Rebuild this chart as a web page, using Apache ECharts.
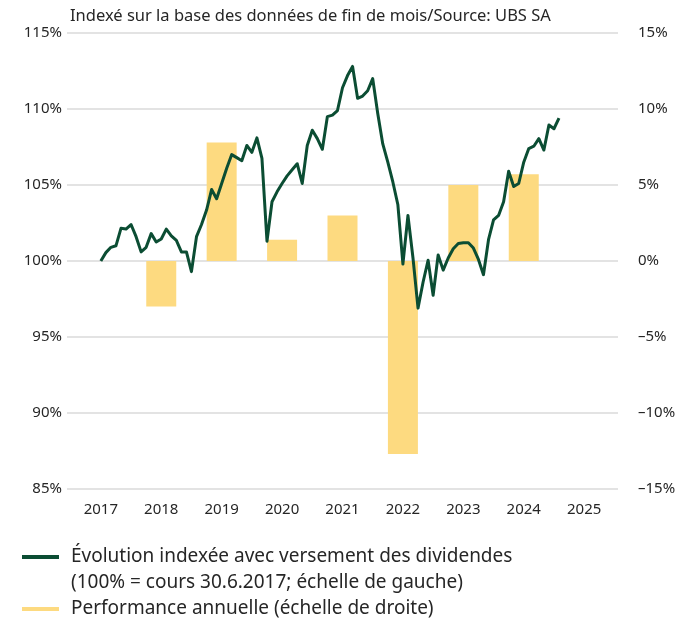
<!DOCTYPE html>
<html>
<head>
<meta charset="utf-8">
<script src="https://cdn.jsdelivr.net/npm/echarts@6/dist/echarts.min.js"></script>
<style>
  html, body { margin: 0; padding: 0; background: #ffffff; }
  #chart { width: 683px; height: 621px; }
</style>
</head>
<body>
<div id="chart"></div>
<script>
// Index, month-end values from 30.6.2017 (left axis, %)
const startYear = 2017;
const indexValues = [
  100.0, 100.55, 100.9, 101.0, 102.15, 102.1, 102.4, 101.6, 100.6, 100.9, 101.8, 101.25,
  101.45, 102.1, 101.65, 101.35, 100.6, 100.6, 99.3, 101.6, 102.4, 103.35, 104.7, 104.1,
  105.1, 106.1, 107.0, 106.8, 106.6, 107.6, 107.15, 108.1, 106.75, 101.3, 103.9, 104.55,
  105.1, 105.6, 106.0, 106.4, 105.1, 107.6, 108.6, 108.05, 107.35, 109.5, 109.6, 109.9,
  111.4, 112.2, 112.8, 110.7, 110.85, 111.2, 112.0, 109.7, 107.7, 106.5, 105.2, 103.7,
  99.8, 103.0, 100.2, 96.9, 98.6, 100.05, 97.75, 100.4, 99.4, 100.2, 100.8, 101.15,
  101.2, 101.2, 100.85, 100.1, 99.1, 101.4, 102.7, 103.0, 103.9, 105.9, 104.9, 105.1,
  106.5, 107.4, 107.55, 108.05, 107.3, 108.95, 108.7, 109.4
];

// Annual performance (right axis, %)
const barYears = [2018, 2019, 2020, 2021, 2022, 2023, 2024];
const annualPerf = [-3.0, 7.8, 1.4, 3.0, -12.7, 5.0, 5.7];

const yearLabels = [2017, 2018, 2019, 2020, 2021, 2022, 2023, 2024, 2025];

const lineText = ['Évolution indexée avec versement des dividendes', '(100% = cours 30.6.2017; échelle de gauche)'];
const lineName = lineText.join(' ');
const barName = 'Performance annuelle (échelle de droite)';

const GREEN = '#0b4d33';
const YELLOW = '#fdda80';
const FONT = '"Noto Sans", sans-serif';
const TEXT = '#262626';
const LEGEND_FS = 19;

const pct = (v) => String(v).replace('-', '–') + '%';

const legendBase = {
  orient: 'vertical',
  left: 22,
  padding: 0,
  itemWidth: 37,
  itemHeight: 4,
  icon: 'rect',
  textStyle: {
    fontFamily: FONT,
    fontSize: LEGEND_FS,
    color: TEXT,
    lineHeight: 26,
    rich: { g: { width: 7, fontSize: LEGEND_FS, lineHeight: 26 } },
  },
};

const chart = echarts.init(document.getElementById('chart'), null, { renderer: 'canvas' });

const option = {
  backgroundColor: '#ffffff',
  animation: false,
  textStyle: { fontFamily: FONT, color: TEXT },
  title: {
    text: 'Indexé sur la base des données de fin de mois/Source: UBS SA',
    left: 70,
    top: 8,
    padding: 0,
    textStyle: { fontFamily: FONT, fontSize: 16.5, fontWeight: 'normal', color: TEXT },
  },
  grid: { left: 67, right: 65, top: 33, bottom: 132 },
  legend: [
    Object.assign({}, legendBase, {
      top: 518,
      data: [lineName],
      formatter: () => '\n{g| }' + lineText[0] + '\n{g| }' + lineText[1],
    }),
    Object.assign({}, legendBase, {
      top: 596,
      data: [barName],
      formatter: (n) => '{g| }' + n,
    }),
  ],
  xAxis: {
    type: 'value',
    min: 2016.44,
    max: 2025.56,
    axisLine: { show: false },
    axisTick: { show: false },
    splitLine: { show: false },
    axisLabel: {
      customValues: yearLabels,
      formatter: (v) => String(v),
      fontFamily: FONT,
      fontSize: 15,
      color: TEXT,
      margin: 13,
    },
  },
  yAxis: [
    {
      type: 'value',
      min: 85,
      max: 115,
      interval: 5,
      axisLine: { show: false },
      axisTick: { show: false },
      axisLabel: { formatter: pct, fontFamily: FONT, fontSize: 15, color: TEXT, margin: 5 },
      splitLine: { lineStyle: { color: '#dadada', width: 1.5 } },
    },
    {
      type: 'value',
      min: -15,
      max: 15,
      interval: 5,
      axisLine: { show: false },
      axisTick: { show: false },
      axisLabel: { formatter: pct, fontFamily: FONT, fontSize: 15, color: TEXT, margin: 20 },
      splitLine: { show: false },
    },
  ],
  series: [
    {
      name: barName,
      type: 'bar',
      yAxisIndex: 1,
      barWidth: 30,
      itemStyle: { color: YELLOW },
      data: barYears.map((y, i) => [y, annualPerf[i]]),
    },
    {
      name: lineName,
      type: 'line',
      yAxisIndex: 0,
      showSymbol: false,
      itemStyle: { color: GREEN },
      lineStyle: { color: GREEN, width: 3, join: 'round' },
      data: indexValues.map((v, i) => [startYear + i / 12, v]),
    },
  ],
};

chart.setOption(option);
</script>
</body>
</html>
